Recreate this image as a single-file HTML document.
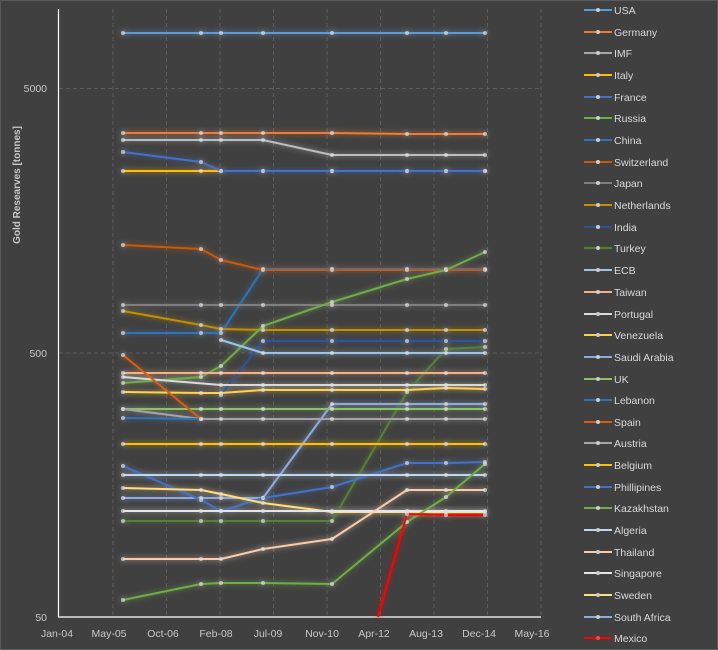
<!DOCTYPE html>
<html><head><meta charset="utf-8"><style>
html,body{margin:0;padding:0;background:#404040;}
svg{display:block;font-family:"Liberation Sans",sans-serif;}
</style></head><body>
<svg width="718" height="650" viewBox="0 0 718 650" xmlns="http://www.w3.org/2000/svg">
<defs>
<filter id="g" x="-10%" y="-50%" width="120%" height="200%"><feGaussianBlur in="SourceGraphic" stdDeviation="3" result="b"/><feComponentTransfer in="b" result="b2"><feFuncA type="linear" slope="0.75"/></feComponentTransfer><feMerge><feMergeNode in="b2"/><feMergeNode in="SourceGraphic"/></feMerge></filter>
<marker id="m" viewBox="0 0 6 6" refX="3" refY="3" markerWidth="6" markerHeight="6" markerUnits="userSpaceOnUse"><circle cx="3" cy="3" r="2" fill="#e0e0e0" fill-opacity="0.7"/></marker>
</defs>
<rect x="0" y="0" width="718" height="650" fill="#404040"/>
<rect x="0.5" y="0.5" width="717" height="649" fill="none" stroke="#5a5a5a"/>
<g stroke="#5c5c5c" stroke-dasharray="4,3" stroke-width="1">
<line x1="113" y1="9" x2="113" y2="617"/><line x1="166.5" y1="9" x2="166.5" y2="617"/><line x1="220" y1="9" x2="220" y2="617"/><line x1="273.5" y1="9" x2="273.5" y2="617"/><line x1="327" y1="9" x2="327" y2="617"/><line x1="380.5" y1="9" x2="380.5" y2="617"/><line x1="434" y1="9" x2="434" y2="617"/><line x1="487.5" y1="9" x2="487.5" y2="617"/><line x1="541" y1="9" x2="541" y2="617"/>
<line x1="59" y1="88.5" x2="541" y2="88.5"/><line x1="59" y1="353" x2="541" y2="353"/>
</g>
<line x1="58.5" y1="9" x2="58.5" y2="617" stroke="#fff" stroke-width="1.2"/>
<line x1="58" y1="617" x2="541" y2="617" stroke="#fff" stroke-width="1.2"/>
<g fill="#c8c8c8" font-size="10.5" text-anchor="end">
<text x="47" y="92">5000</text><text x="47" y="357">500</text><text x="47" y="621">50</text>
</g>
<g fill="#c8c8c8" font-size="10.5" text-anchor="middle">
<text x="57" y="637">Jan-04</text><text x="109" y="637">May-05</text><text x="163" y="637">Oct-06</text><text x="216" y="637">Feb-08</text><text x="268" y="637">Jul-09</text><text x="322" y="637">Nov-10</text><text x="374" y="637">Apr-12</text><text x="426" y="637">Aug-13</text><text x="479" y="637">Dec-14</text><text x="532" y="637">May-16</text>
</g>
<text transform="translate(20,185) rotate(-90)" fill="#c8c8c8" font-size="10" font-weight="bold" text-anchor="middle">Gold Researves [tonnes]</text>

<g fill="none" stroke-width="2" stroke-linejoin="round" filter="url(#g)" marker-start="url(#m)" marker-mid="url(#m)" marker-end="url(#m)">
<polyline stroke="#5B9BD5" points="123,33 201,33 221,33 263,33 332,33 407,33 446,33 485,33"/>
<polyline stroke="#ED7D31" points="123,133 201,133 221,133 263,133 332,133 407,134 446,134 485,134"/>
<polyline stroke="#BDBDBD" points="123,140 201,140 221,140 263,140 332,155 407,155 446,155 485,155"/>
<polyline stroke="#FFC000" points="123,171 201,171 221,171 263,171 332,171 407,171 446,171 485,171"/>
<polyline stroke="#4472C4" points="123,152 201,162 221,171 263,171 332,171 407,171 446,171 485,171"/>
<polyline stroke="#2E75B6" points="123,333 201,333 221,333 263,269 332,269 407,269 446,269 485,269"/>
<polyline stroke="#C55A11" points="123,245 201,249 221,260 263,270 332,270 407,270 446,270 485,270"/>
<polyline stroke="#7F7F7F" points="123,305 201,305 221,305 263,305 332,305 407,305 446,305 485,305"/>
<polyline stroke="#BF9000" points="123,311 201,325 221,329 263,330 332,330 407,330 446,330 485,330"/>
<polyline stroke="#2F5597" points="221,395 263,341 332,341 407,341 446,341 485,341"/>
<polyline stroke="#70AD47" points="123,383 201,377 221,366 263,326 332,302 407,279 446,270 485,252"/>
<polyline stroke="#548235" points="123,521 201,521 221,521 263,521 332,521 407,392 446,349 485,347"/>
<polyline stroke="#9DC3E6" points="221,340 263,353 332,353 407,353 446,353 485,353"/>
<polyline stroke="#F4B183" points="123,373 201,373 221,373 263,373 332,373 407,373 446,373 485,373"/>
<polyline stroke="#D9D9D9" points="123,377 221,385 263,385 332,385 407,385 446,385 485,385"/>
<polyline stroke="#FFD24D" points="123,392 201,393 221,393 263,390 332,390 407,390 446,388 485,389"/>
<polyline stroke="#8FAADC" points="123,498 201,498 221,498 263,498 332,404 407,404 446,404 485,404"/>
<polyline stroke="#8CC168" points="123,409 201,409 221,409 263,409 332,409 407,409 446,409 485,409"/>
<polyline stroke="#A5A5A5" points="123,409 201,419 221,419 263,419 332,419 407,419 446,419 485,419"/>
<polyline stroke="#2E75B6" points="123,418 201,419"/>
<polyline stroke="#D26012" points="123,355 201,419"/>
<polyline stroke="#FFC000" points="123,444 201,444 221,444 263,444 332,444 407,444 446,444 485,444"/>
<polyline stroke="#4472C4" points="123,466 201,500 221,511 263,498 332,487 407,463 446,463 485,462"/>
<polyline stroke="#BDD7EE" points="123,475 201,475 221,475 263,475 332,475 407,475 446,475 485,475"/>
<polyline stroke="#FFE080" points="123,488 201,490 221,494 263,503 332,512 407,512 446,512 485,512"/>
<polyline stroke="#E7E6E6" points="123,511 201,511 221,511 263,511 332,511 407,511 446,511 485,511"/>
<polyline stroke="#F8CBAD" points="123,559 201,559 221,559 263,549 332,539 407,490 446,490 485,490"/>
<polyline stroke="#70AD47" points="123,600 201,584 221,583 263,583 332,584 407,522 446,497 485,464"/>
<polyline stroke="#FF0000" marker-start="none" points="378,617 407,514 446,515 485,515"/>
</g>

<g font-size="10.5" fill="#d9d9d9" stroke-width="2">
<g transform="translate(0,10)"><line x1="584" x2="612" stroke="#5B9BD5"/><circle cx="598" r="2" fill="#ccc"/><text x="614" y="4">USA</text></g>
<g transform="translate(0,32)"><line x1="584" x2="612" stroke="#ED7D31"/><circle cx="598" r="2" fill="#ccc"/><text x="614" y="4">Germany</text></g>
<g transform="translate(0,53)"><line x1="584" x2="612" stroke="#A5A5A5"/><circle cx="598" r="2" fill="#ccc"/><text x="614" y="4">IMF</text></g>
<g transform="translate(0,75)"><line x1="584" x2="612" stroke="#FFC000"/><circle cx="598" r="2" fill="#ccc"/><text x="614" y="4">Italy</text></g>
<g transform="translate(0,97)"><line x1="584" x2="612" stroke="#4472C4"/><circle cx="598" r="2" fill="#ccc"/><text x="614" y="4">France</text></g>
<g transform="translate(0,118)"><line x1="584" x2="612" stroke="#70AD47"/><circle cx="598" r="2" fill="#ccc"/><text x="614" y="4">Russia</text></g>
<g transform="translate(0,140)"><line x1="584" x2="612" stroke="#2E75B6"/><circle cx="598" r="2" fill="#ccc"/><text x="614" y="4">China</text></g>
<g transform="translate(0,162)"><line x1="584" x2="612" stroke="#C55A11"/><circle cx="598" r="2" fill="#ccc"/><text x="614" y="4">Switzerland</text></g>
<g transform="translate(0,183)"><line x1="584" x2="612" stroke="#7F7F7F"/><circle cx="598" r="2" fill="#ccc"/><text x="614" y="4">Japan</text></g>
<g transform="translate(0,205)"><line x1="584" x2="612" stroke="#BF9000"/><circle cx="598" r="2" fill="#ccc"/><text x="614" y="4">Netherlands</text></g>
<g transform="translate(0,227)"><line x1="584" x2="612" stroke="#2F5597"/><circle cx="598" r="2" fill="#ccc"/><text x="614" y="4">India</text></g>
<g transform="translate(0,248)"><line x1="584" x2="612" stroke="#548235"/><circle cx="598" r="2" fill="#ccc"/><text x="614" y="4">Turkey</text></g>
<g transform="translate(0,270)"><line x1="584" x2="612" stroke="#9DC3E6"/><circle cx="598" r="2" fill="#ccc"/><text x="614" y="4">ECB</text></g>
<g transform="translate(0,292)"><line x1="584" x2="612" stroke="#F4B183"/><circle cx="598" r="2" fill="#ccc"/><text x="614" y="4">Taiwan</text></g>
<g transform="translate(0,314)"><line x1="584" x2="612" stroke="#D9D9D9"/><circle cx="598" r="2" fill="#ccc"/><text x="614" y="4">Portugal</text></g>
<g transform="translate(0,335)"><line x1="584" x2="612" stroke="#FFD24D"/><circle cx="598" r="2" fill="#ccc"/><text x="614" y="4">Venezuela</text></g>
<g transform="translate(0,357)"><line x1="584" x2="612" stroke="#8FAADC"/><circle cx="598" r="2" fill="#ccc"/><text x="614" y="4">Saudi Arabia</text></g>
<g transform="translate(0,379)"><line x1="584" x2="612" stroke="#8CC168"/><circle cx="598" r="2" fill="#ccc"/><text x="614" y="4">UK</text></g>
<g transform="translate(0,400)"><line x1="584" x2="612" stroke="#2E75B6"/><circle cx="598" r="2" fill="#ccc"/><text x="614" y="4">Lebanon</text></g>
<g transform="translate(0,422)"><line x1="584" x2="612" stroke="#D26012"/><circle cx="598" r="2" fill="#ccc"/><text x="614" y="4">Spain</text></g>
<g transform="translate(0,443)"><line x1="584" x2="612" stroke="#A5A5A5"/><circle cx="598" r="2" fill="#ccc"/><text x="614" y="4">Austria</text></g>
<g transform="translate(0,465)"><line x1="584" x2="612" stroke="#FFC000"/><circle cx="598" r="2" fill="#ccc"/><text x="614" y="4">Belgium</text></g>
<g transform="translate(0,487)"><line x1="584" x2="612" stroke="#4472C4"/><circle cx="598" r="2" fill="#ccc"/><text x="614" y="4">Phillipines</text></g>
<g transform="translate(0,508)"><line x1="584" x2="612" stroke="#70AD47"/><circle cx="598" r="2" fill="#ccc"/><text x="614" y="4">Kazakhstan</text></g>
<g transform="translate(0,530)"><line x1="584" x2="612" stroke="#BDD7EE"/><circle cx="598" r="2" fill="#ccc"/><text x="614" y="4">Algeria</text></g>
<g transform="translate(0,552)"><line x1="584" x2="612" stroke="#F8CBAD"/><circle cx="598" r="2" fill="#ccc"/><text x="614" y="4">Thailand</text></g>
<g transform="translate(0,573)"><line x1="584" x2="612" stroke="#E7E6E6"/><circle cx="598" r="2" fill="#ccc"/><text x="614" y="4">Singapore</text></g>
<g transform="translate(0,595)"><line x1="584" x2="612" stroke="#FFE080"/><circle cx="598" r="2" fill="#ccc"/><text x="614" y="4">Sweden</text></g>
<g transform="translate(0,617)"><line x1="584" x2="612" stroke="#8FAADC"/><circle cx="598" r="2" fill="#ccc"/><text x="614" y="4">South Africa</text></g>
<g transform="translate(0,638)"><line x1="584" x2="612" stroke="#FF0000"/><circle cx="598" r="2" fill="#f44"/><text x="614" y="4">Mexico</text></g>
</g>
</svg>
</body></html>
